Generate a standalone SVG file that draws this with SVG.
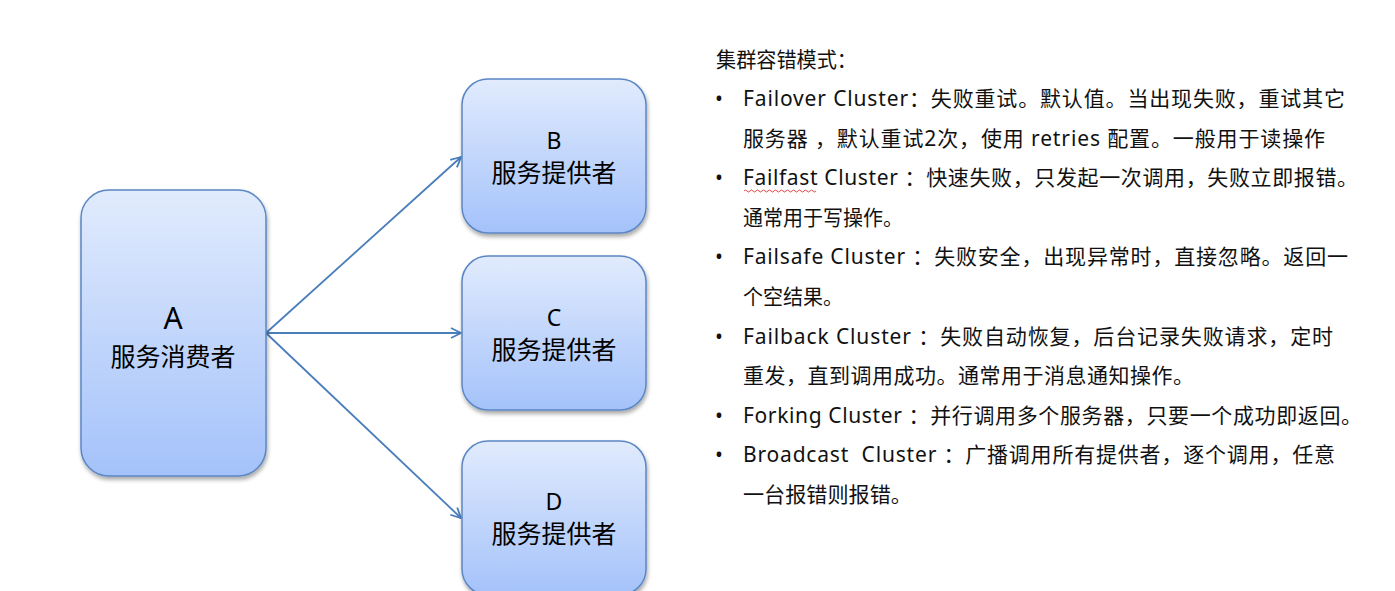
<svg xmlns="http://www.w3.org/2000/svg" width="1395" height="591" viewBox="0 0 1395 591">
<defs>
<linearGradient id="g" x1="0" y1="0" x2="0" y2="1">
<stop offset="0" stop-color="#e1ebfd"/>
<stop offset="1" stop-color="#a4c2fa"/>
</linearGradient>
<filter id="sh" x="-10%" y="-10%" width="130%" height="130%">
<feGaussianBlur in="SourceAlpha" stdDeviation="2"/>
<feOffset dx="1" dy="3"/>
<feComponentTransfer><feFuncA type="linear" slope="0.35"/></feComponentTransfer>
<feMerge><feMergeNode/><feMergeNode in="SourceGraphic"/></feMerge>
</filter>
<marker id="arr" viewBox="0 0 12 12" refX="11" refY="6" markerWidth="12" markerHeight="12" markerUnits="userSpaceOnUse" orient="auto">
<path d="M1,1 L11,6 L1,11" fill="none" stroke="#4a7ebb" stroke-width="1.8"/>
</marker>
</defs>
<style>
.box{fill:url(#g);stroke:#5b87c4;stroke-width:1.5;filter:url(#sh)}
.t{font-family:"Noto Sans","Noto Sans CJK SC",sans-serif;fill:#000;text-anchor:middle}
.big{font-size:30px}
.cn{font-size:25px}
.let{font-size:23px}
.r{font-family:"Noto Sans","Noto Sans CJK SC",sans-serif;font-size:21px;fill:#111}
.conn{stroke:#4a7ebb;stroke-width:1.8;fill:none;marker-end:url(#arr)}
</style>
<rect width="1395" height="591" fill="#fff"/>
<g id="connectors">
<line class="conn" x1="266" y1="333" x2="461" y2="157"/>
<line class="conn" x1="266" y1="333" x2="461" y2="333"/>
<line class="conn" x1="266" y1="333" x2="461" y2="518"/>
</g>
<g id="nodeA">
<rect class="box" x="81" y="190" width="185" height="286" rx="28"/>
<text class="t big" x="173" y="329">A</text>
<text class="t cn" x="173" y="366">服务消费者</text>
</g>
<g id="nodeB">
<rect class="box" x="462" y="79" width="184" height="154" rx="26"/>
<text class="t let" x="554" y="149">B</text>
<text class="t cn" x="554" y="182">服务提供者</text>
</g>
<g id="nodeC">
<rect class="box" x="462" y="256" width="184" height="154" rx="26"/>
<text class="t let" x="554" y="326">C</text>
<text class="t cn" x="554" y="359">服务提供者</text>
</g>
<g id="nodeD">
<rect class="box" x="462" y="441" width="184" height="154" rx="26"/>
<text class="t let" x="554" y="510">D</text>
<text class="t cn" x="554" y="543">服务提供者</text>
</g>
<g id="notes">
<text class="r" x="716" y="67" textLength="141" lengthAdjust="spacingAndGlyphs">集群容错模式：</text>
<text class="r" x="715" y="106">•</text>
<text class="r" x="743" y="106" textLength="602" lengthAdjust="spacing">Failover Cluster：失败重试。默认值。当出现失败，重试其它</text>
<text class="r" x="743" y="146" textLength="582" lengthAdjust="spacing">服务器 ，默认重试2次，使用 retries 配置。一般用于读操作</text>
<text class="r" x="715" y="185">•</text>
<text class="r" x="743" y="185" textLength="615" lengthAdjust="spacing">Failfast Cluster ：快速失败，只发起一次调用，失败立即报错。</text>
<path d="M744,191 q1.5,-2 3,0 t3,0 t3,0 t3,0 t3,0 t3,0 t3,0 t3,0 t3,0 t3,0 t3,0 t3,0 t3,0 t3,0 t3,0 t3,0 t3,0 t3,0 t3,0 t3,0 t3,0 t3,0 t3,0 t3,0" fill="none" stroke="#e03030" stroke-width="0.9"/>
<text class="r" x="743" y="225" textLength="160" lengthAdjust="spacingAndGlyphs">通常用于写操作。</text>
<text class="r" x="715" y="264">•</text>
<text class="r" x="743" y="264" textLength="605" lengthAdjust="spacing">Failsafe Cluster ：失败安全，出现异常时，直接忽略。返回一</text>
<text class="r" x="743" y="304" textLength="100" lengthAdjust="spacingAndGlyphs">个空结果。</text>
<text class="r" x="715" y="344">•</text>
<text class="r" x="743" y="344" textLength="590" lengthAdjust="spacing">Failback Cluster ：失败自动恢复，后台记录失败请求，定时</text>
<text class="r" x="743" y="383" textLength="451" lengthAdjust="spacing">重发，直到调用成功。通常用于消息通知操作。</text>
<text class="r" x="715" y="423">•</text>
<text class="r" x="743" y="423" textLength="619" lengthAdjust="spacing">Forking Cluster ：并行调用多个服务器，只要一个成功即返回。</text>
<text class="r" x="715" y="462">•</text>
<text class="r" x="743" y="462" xml:space="preserve" textLength="592" lengthAdjust="spacing">Broadcast  Cluster ：广播调用所有提供者，逐个调用，任意</text>
<text class="r" x="743" y="502" textLength="169" lengthAdjust="spacingAndGlyphs">一台报错则报错。</text>
</g>
</svg>
